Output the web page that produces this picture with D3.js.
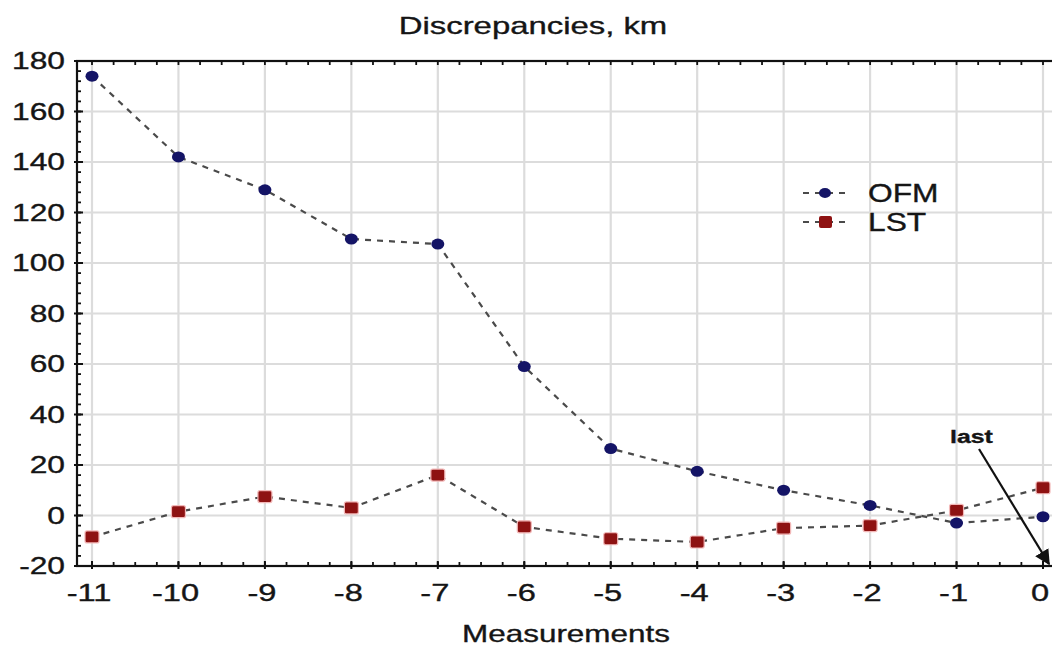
<!DOCTYPE html>
<html><head><meta charset="utf-8">
<script src="https://cdn.jsdelivr.net/npm/d3@7"></script>
<style>body{margin:0;background:#fff}text{font-family:"Liberation Sans",Arial,sans-serif;fill:#151515;stroke:#151515;stroke-width:0.35px}</style>
</head><body><svg id="c" width="1052" height="646"></svg>
<script>
const measurements = [-11,-10,-9,-8,-7,-6,-5,-4,-3,-2,-1,0];
const ofm = [174,142,129,109.5,107.5,59,26.5,17.5,10,4,-3,-0.5];
const lst = [-8.5,1.5,7.5,3,16,-4.5,-9.2,-10.5,-5,-4,2,11];
const yTicks = [-20,0,20,40,60,80,100,120,140,160,180];
const seriesNames = ["OFM","LST"];

(function(){
const svg = d3.select("#c");
const x = d3.scaleLinear().domain([-11,0]).range([92,1043]);
const y = d3.scaleLinear().domain([-20,180]).range([566,61]);
const pL = 77, pR = 1058, pT = 61, pB = 566;

function stext(sel, px, py, sx){ return sel.attr("transform",`translate(${px},${py}) scale(${sx},1)`); }

// grid
const g = svg.append("g");
g.selectAll(".hg").data(yTicks.slice(1,-1)).join("line")
  .attr("x1",pL).attr("x2",pR).attr("y1",d=>y(d)).attr("y2",d=>y(d))
  .attr("stroke","#dcdcdc").attr("stroke-width",2.2);
g.selectAll(".vg").data(measurements).join("line")
  .attr("x1",d=>x(d)).attr("x2",d=>x(d)).attr("y1",pT).attr("y2",pB)
  .attr("stroke","#dcdcdc").attr("stroke-width",2.2);

// frame
svg.append("rect").attr("x",pL).attr("y",pT).attr("width",pR-pL).attr("height",pB-pT)
  .attr("fill","none").attr("stroke","#111").attr("stroke-width",2.2);

// minor ticks
const xMinor = d3.range(-11.5,0.51,0.25).filter(v=>x(v)>pL);
const yMinor = d3.range(-20,181,4);
svg.append("g").selectAll("line").data(xMinor).join("line")
  .attr("x1",d=>x(d)).attr("x2",d=>x(d)).attr("y1",pT).attr("y2",pT+4).attr("stroke","#111").attr("stroke-width",1.8);
svg.append("g").selectAll("line").data(xMinor).join("line")
  .attr("x1",d=>x(d)).attr("x2",d=>x(d)).attr("y1",pB).attr("y2",pB-4).attr("stroke","#111").attr("stroke-width",1.8);
svg.append("g").selectAll("line").data(yMinor).join("line")
  .attr("x1",pL).attr("x2",pL+4).attr("y1",d=>y(d)).attr("y2",d=>y(d)).attr("stroke","#111").attr("stroke-width",1.8);
// major ticks
svg.append("g").selectAll("line").data(measurements).join("line")
  .attr("x1",d=>x(d)).attr("x2",d=>x(d)).attr("y1",pB-5).attr("y2",pB+3).attr("stroke","#111").attr("stroke-width",2);
svg.append("g").selectAll("line").data(yTicks).join("line")
  .attr("x1",pL-3).attr("x2",pL+6).attr("y1",d=>y(d)).attr("y2",d=>y(d)).attr("stroke","#111").attr("stroke-width",2);

// axis labels
svg.append("g").selectAll("text").data(yTicks).join("text")
  .each(function(d){ stext(d3.select(this),65,y(d)+8,1.38); })
  .attr("text-anchor","end").attr("font-size",23).text(d=>d);
svg.append("g").selectAll("text").data(measurements).join("text")
  .each(function(d){ stext(d3.select(this),x(d)-3,601,1.36); })
  .attr("text-anchor","middle").attr("font-size",24).text(d=>d);

stext(svg.append("text"),533,34,1.37).attr("text-anchor","middle").attr("font-size",24).text("Discrepancies, km");
stext(svg.append("text"),566,642,1.31).attr("text-anchor","middle").attr("font-size",24).text("Measurements");

// lines
const line = d3.line().x((d,i)=>x(measurements[i])).y(d=>y(d));
[ofm,lst].forEach(s=>{
  svg.append("path").datum(s).attr("d",line).attr("fill","none")
    .attr("stroke","#4a4a4a").attr("stroke-width",2.2).attr("stroke-dasharray","6,6");
});
svg.append("g").selectAll("ellipse").data(ofm).join("ellipse")
  .attr("cx",(d,i)=>x(measurements[i])).attr("cy",d=>y(d)).attr("rx",6.5).attr("ry",5.5).attr("fill","#141466");
svg.append("g").selectAll("rect").data(lst).join("rect")
  .attr("x",(d,i)=>x(measurements[i])-7).attr("y",d=>y(d)-6).attr("width",14).attr("height",12)
  .attr("rx",2).attr("fill","#8e1212").attr("stroke","#f2b8b8").attr("stroke-width",1.2);

// legend
const leg = svg.append("g");
[0,1].forEach(i=>{
  const ly = 193 + i*29;
  leg.append("line").attr("x1",803).attr("x2",845).attr("y1",ly).attr("y2",ly)
    .attr("stroke","#4a4a4a").attr("stroke-width",2.2).attr("stroke-dasharray","6,6");
  if(i===0) leg.append("ellipse").attr("cx",825).attr("cy",ly).attr("rx",6).attr("ry",5).attr("fill","#141466");
  else leg.append("rect").attr("x",819).attr("y",ly-6).attr("width",13).attr("height",12).attr("rx",2).attr("fill","#8e1212");
  stext(leg.append("text"),868,ly+9,1.27).attr("font-size",25).text(seriesNames[i]);
});

// annotation
svg.append("defs").append("marker").attr("id","ah").attr("viewBox","0 0 10 10").attr("refX",9).attr("refY",5)
  .attr("markerWidth",7).attr("markerHeight",7).attr("orient","auto")
  .append("path").attr("d","M0,0L10,5L0,10z").attr("fill","#111");
stext(svg.append("text"),950,443,1.38).attr("font-size",18).attr("font-weight","bold").text("last");
svg.append("line").attr("x1",979).attr("y1",449).attr("x2",1049).attr("y2",564)
  .attr("stroke","#111").attr("stroke-width",2.2).attr("marker-end","url(#ah)");
})();
</script></body></html>
